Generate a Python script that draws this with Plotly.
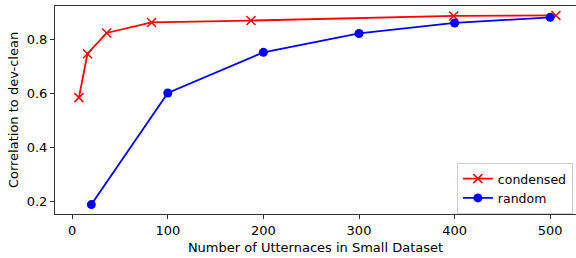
import plotly.graph_objects as go

cond_x = [7, 16, 36, 83, 187, 399, 506]
cond_y = [0.585, 0.748, 0.825, 0.864, 0.871, 0.888, 0.890]
rand_x = [20, 100, 200, 300, 400, 500]
rand_y = [0.188, 0.602, 0.753, 0.823, 0.862, 0.883]

x_ticks = [0, 100, 200, 300, 400, 500]
y_ticks = [0.2, 0.4, 0.6, 0.8]

fig = go.Figure()
fig.add_trace(go.Scatter(
    x=cond_x, y=cond_y, mode="lines+markers", name="condensed",
    line=dict(color="red", width=1.8),
    marker=dict(symbol="x-thin", size=9, color="red", line=dict(width=1.5, color="red")),
))
fig.add_trace(go.Scatter(
    x=rand_x, y=rand_y, mode="lines+markers", name="random",
    line=dict(color="blue", width=1.8),
    marker=dict(symbol="circle", size=9, color="blue"),
))

font = dict(family="DejaVu Sans", size=13, color="black")
fig.update_layout(
    width=576, height=258,
    margin=dict(l=55, r=0, t=6, b=44, autoexpand=False),
    plot_bgcolor="white", paper_bgcolor="white",
    font=font,
    showlegend=True,
    legend=dict(x=0.994, y=0.0, xanchor="right", yanchor="bottom",
                bordercolor="#cccccc", borderwidth=1, bgcolor="rgba(255,255,255,0.8)",
                font=dict(family="DejaVu Sans", size=12.5), tracegroupgap=0,
                itemwidth=30),
)
fig.update_xaxes(
    range=[-18, 527], tickvals=x_ticks, showgrid=False, zeroline=False,
    showline=True, mirror=True, linecolor="#333", linewidth=1,
    ticks="outside", ticklen=4, tickcolor="#333", automargin=False,
    title=dict(text="Number of Utternaces in Small Dataset", standoff=6, font=font),
)
fig.update_yaxes(
    range=[0.153, 0.925], tickvals=y_ticks, ticktext=["0.2", "0.4", "0.6", "0.8"],
    showgrid=False, zeroline=False,
    showline=True, mirror=False, linecolor="#333", linewidth=1,
    ticks="outside", ticklen=4, tickcolor="#333", automargin=False,
    title=dict(text="Correlation to dev-clean", standoff=5, font=font),
)
fig.write_html("out.html", config={"displayModeBar": False},
               post_script="document.body.style.margin='0px';document.body.style.overflow='hidden';")
